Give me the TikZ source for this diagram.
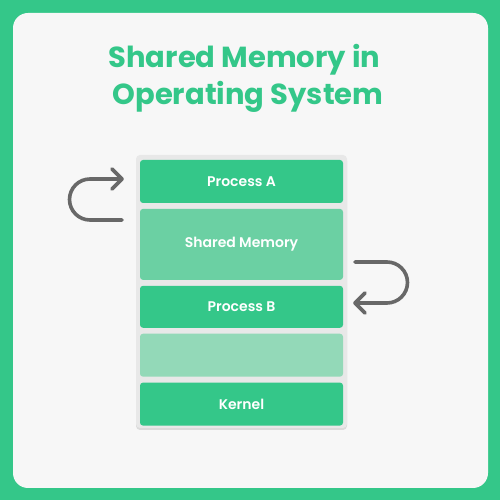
\documentclass[tikz,border=0pt]{standalone}
\usepackage{fontspec}
\setmainfont{Poppins}
\IfFontExistsTF{Poppins SemiBold}
  {\newfontfamily\layerfont{Poppins SemiBold}}
  {\newfontfamily\layerfont{Poppins}[FakeBold=2.2]}
\usetikzlibrary{positioning}
\definecolor{gfgreen}{RGB}{52,199,137}
\definecolor{midgreen}{RGB}{107,208,163}
\definecolor{palegreen}{RGB}{147,217,184}
\definecolor{panel}{RGB}{247,247,247}
\definecolor{stackbg}{RGB}{232,232,232}
\definecolor{arrowgray}{RGB}{104,104,104}
\tikzset{
  layer/.style = {fill=gfgreen, rounded corners=3pt, minimum width=203pt, text=white,
                  font=\layerfont\fontsize{14}{17}\selectfont, inner sep=0pt},
  turn/.style = {draw=arrowgray, line width=3.6pt, line cap=round, line join=round},
  heading/.style = {text=gfgreen, font=\fontsize{29}{34}\bfseries\selectfont}
}
\begin{document}
\begin{tikzpicture}[x=1pt, y=1pt]
\useasboundingbox (0,0) rectangle (500,500);
\fill[gfgreen] (0,0) rectangle (500,500);
\fill[panel, rounded corners=15pt] (13,12) rectangle (488,487);
\node[heading] (t1) at (244.5,440) {Shared Memory in};
\node[heading] (t2) at (248,403) {Operating System};
\fill[black!14, rounded corners=4pt] (136,70) rectangle (347,343);
\fill[stackbg, rounded corners=4pt] (136,72) rectangle (347,345);
\node[layer, minimum height=43pt] (pa) at (241.5,318.5) {Process A};
\node[layer, fill=midgreen, minimum height=71pt, below=5.5pt of pa] (sm) {Shared Memory};
\node[layer, minimum height=42pt, below=5.5pt of sm] (pb) {Process B};
\node[layer, fill=palegreen, minimum height=43pt, below=5.5pt of pb] (gap) {};
\node[layer, minimum height=43pt, below=5.5pt of gap] (kn) {Kernel};
\coordinate (la1) at (122,280);
\coordinate (la2) at (122,321);
\coordinate (ra1) at (355,238);
\coordinate (ra2) at (355,197);
\draw[turn] (la1) -- ++(-32,0) arc[start angle=270, end angle=90, radius=20.5] -- (la2);
\draw[turn] (la2) ++(-10,10) -- (la2) -- ++(-10,-10);
\draw[turn] (ra1) -- ++(32,0) arc[start angle=90, end angle=-90, radius=20.5] -- (ra2);
\draw[turn] (ra2) ++(10,10) -- (ra2) -- ++(10,-10);
\end{tikzpicture}
\end{document}
